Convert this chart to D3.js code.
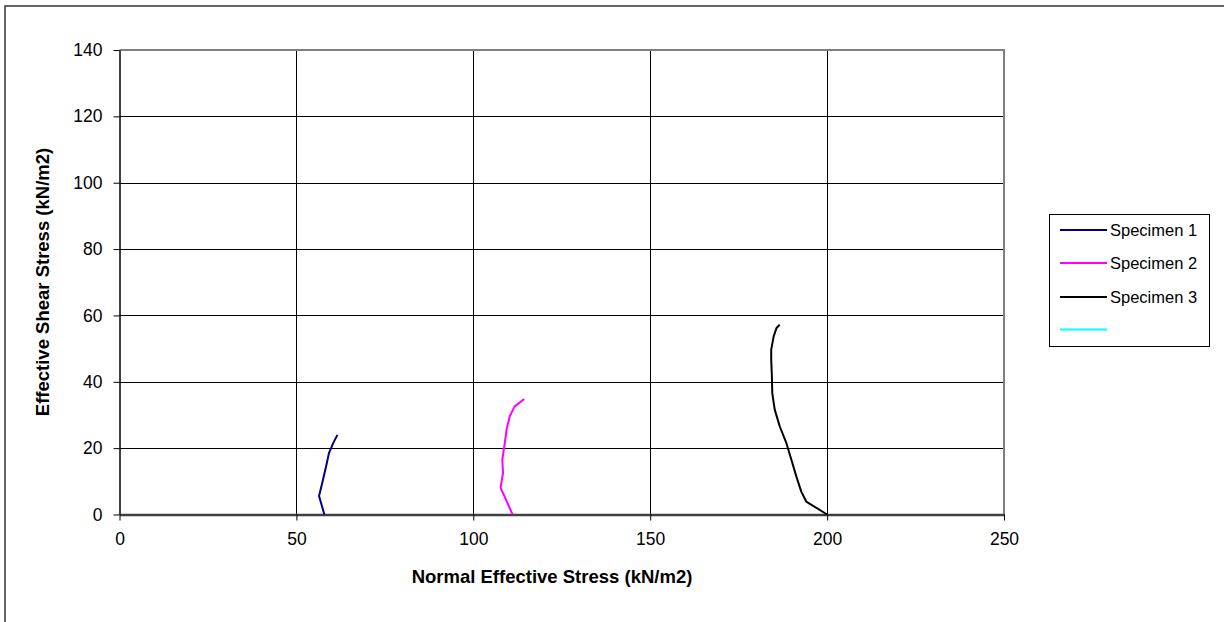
<!DOCTYPE html>
<html>
<head>
<meta charset="utf-8">
<script src="https://d3js.org/d3.v7.min.js"></script>
<style>
  body { margin: 0; background: #fff; }
  svg { font-family: Arial, "Liberation Sans", sans-serif; }
</style>
</head>
<body>
<svg id="svg" width="1224" height="622"></svg>
<script>
// data: normal effective stress (x), effective shear stress (y)
var spec1X = [57.9, 56.4, 57.3, 58.5, 59.2, 60.4, 61.6];
var spec1Y = [0, 5.6, 9.5, 15, 18.5, 21.5, 24];

var spec2X = [111.1, 107.7, 108.4, 108.2, 108.9, 109.4, 110.3, 111.7, 114.4];
var spec2Y = [0, 8.1, 12.5, 16.5, 21.5, 25.6, 29.6, 32.6, 34.8];

var spec3X = [200, 194.1, 192.7, 191.3, 189.9, 188.5, 186.6, 185.2, 184.5, 184.4, 184.2, 184.2, 184.9, 185.7, 186.6];
var spec3Y = [0, 3.9, 6.9, 11.5, 16.5, 21.5, 26.6, 31.6, 36.6, 41.6, 46.7, 49.7, 53.7, 56.2, 57.2];

var seriesNames = ["Specimen 1", "Specimen 2", "Specimen 3", ""];
var seriesColors = ["#000080", "#ff00ff", "#000000", "#00ffff"];

var xTicks = [0, 50, 100, 150, 200, 250];
var yTicks = [0, 20, 40, 60, 80, 100, 120, 140];

var svg = d3.select("#svg");

// outer chart border
svg.append("rect")
  .attr("x", 5).attr("y", 6)
  .attr("width", 1230).attr("height", 630)
  .attr("fill", "none")
  .attr("stroke", "#333").attr("stroke-width", 1.5);

var pLeft = 119.5, pRight = 1004, pTop = 50, pBottom = 514.5;

var x = d3.scaleLinear().domain([0, 250]).range([pLeft, pRight]);
var y = d3.scaleLinear().domain([0, 140]).range([pBottom, pTop]);

// gridlines
var grid = svg.append("g");
grid.selectAll(".hg").data(yTicks.filter(d => d > 0 && d < 140)).join("line")
  .attr("x1", pLeft).attr("x2", pRight)
  .attr("y1", d => Math.round(y(d)) + 0.5).attr("y2", d => Math.round(y(d)) + 0.5)
  .attr("stroke", "#000").attr("stroke-width", 1);
grid.selectAll(".vg").data(xTicks.filter(d => d > 0 && d < 250)).join("line")
  .attr("x1", d => Math.round(x(d)) + 0.5).attr("x2", d => Math.round(x(d)) + 0.5)
  .attr("y1", pTop).attr("y2", pBottom)
  .attr("stroke", "#000").attr("stroke-width", 1);

// plot frame top/right (gray)
svg.append("path")
  .attr("d", "M" + pLeft + "," + pTop + "H" + pRight + "V" + pBottom)
  .attr("fill", "none").attr("stroke", "#808080").attr("stroke-width", 2);

// axes
var xAxis = svg.append("g")
  .attr("transform", "translate(0," + pBottom + ")")
  .call(d3.axisBottom(x).tickValues(xTicks).tickSize(6).tickPadding(12).tickSizeOuter(0));
xAxis.select(".domain").attr("stroke", "#404040").attr("stroke-width", 2.5);
xAxis.selectAll(".tick line").attr("stroke", "#000");
xAxis.selectAll("text").attr("font-size", 17.5).attr("fill", "#000");

var yAxis = svg.append("g")
  .attr("transform", "translate(" + pLeft + ",0)")
  .call(d3.axisLeft(y).tickValues(yTicks).tickSize(6).tickPadding(11).tickSizeOuter(0));
yAxis.select(".domain").attr("stroke", "#000").attr("stroke-width", 1.5);
yAxis.selectAll(".tick line").attr("stroke", "#000");
yAxis.selectAll("text").attr("font-size", 17.5).attr("fill", "#000");
// bottom axis line drawn over y axis
xAxis.raise();

// axis titles
svg.append("text")
  .attr("x", 552).attr("y", 583)
  .attr("text-anchor", "middle")
  .attr("font-size", 18.5).attr("font-weight", "bold")
  .text("Normal Effective Stress (kN/m2)");

svg.append("text")
  .attr("transform", "translate(49,282) rotate(-90)")
  .attr("text-anchor", "middle")
  .attr("font-size", 18.5).attr("font-weight", "bold")
  .text("Effective Shear Stress (kN/m2)");

// series lines
var series = [
  spec1X.map((v, i) => [v, spec1Y[i]]),
  spec2X.map((v, i) => [v, spec2Y[i]]),
  spec3X.map((v, i) => [v, spec3Y[i]])
];
var line = d3.line().x(d => x(d[0])).y(d => y(d[1]));
series.forEach(function(s, i) {
  svg.append("path")
    .attr("d", line(s))
    .attr("fill", "none")
    .attr("stroke", seriesColors[i])
    .attr("stroke-width", 2)
    .attr("stroke-linejoin", "round");
});

// legend
var legend = svg.append("g");
legend.append("rect")
  .attr("x", 1049.5).attr("y", 214.5)
  .attr("width", 160).attr("height", 132)
  .attr("fill", "#fff").attr("stroke", "#000").attr("stroke-width", 1);
var legY = [230, 263, 297, 329.5];
seriesNames.forEach(function(n, i) {
  legend.append("line")
    .attr("x1", 1060).attr("x2", 1107)
    .attr("y1", legY[i]).attr("y2", legY[i])
    .attr("stroke", seriesColors[i]).attr("stroke-width", 2);
  legend.append("text")
    .attr("x", 1110).attr("y", legY[i] + 6)
    .attr("font-size", 16.5)
    .text(n);
});
</script>
</body>
</html>
